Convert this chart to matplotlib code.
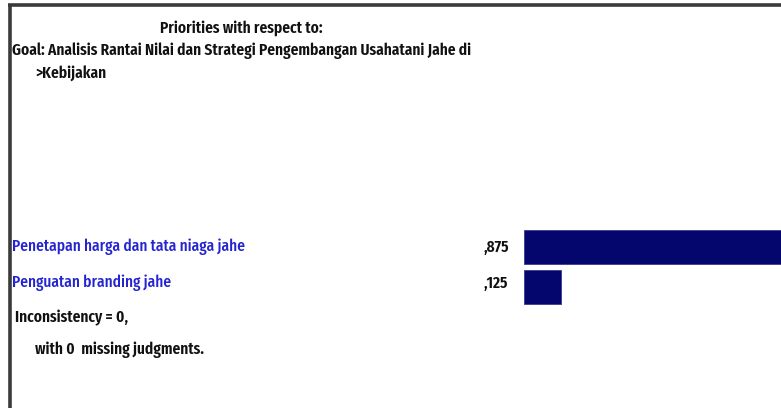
import matplotlib
matplotlib.use("Agg")
import matplotlib.pyplot as plt

# ---- data ----
title_lines = ["Priorities with respect to:",
               "Goal: Analisis Rantai Nilai dan Strategi Pengembangan Usahatani Jahe di",
               ">Kebijakan"]
categories = ["Penetapan harga dan tata niaga jahe", "Penguatan branding jahe"]
values = [0.875, 0.125]
footer_lines = ["Inconsistency = 0,", "with 0  missing judgments."]

W, H = 781, 408
fam = ['Fira Sans Extra Condensed', 'PT Sans Narrow', 'DejaVu Sans']
fig = plt.figure(figsize=(W / 100, H / 100), dpi=100)
fig.patch.set_facecolor('white')

ax = fig.add_axes([0, 0, 1, 1])
ax.set_xlim(0, W)
ax.set_ylim(H, 0)
ax.axis('off')

# frame lines (left and top)
ax.plot([9.5, 9.5], [4, H], color='#3a3a3a', lw=2.6, solid_capstyle='butt')
ax.plot([8, W], [4.5, 4.5], color='#3a3a3a', lw=2.6, solid_capstyle='butt')

fs = 12
dark = '#111111'
blue = '#2424d0'
wt = 'semibold'
texts = []
texts.append(ax.text(241, 28, title_lines[0], ha='center', va='center', fontsize=fs,
                     family=fam, weight=wt, color=dark))
goal = ax.text(12, 51, title_lines[1], ha='left', va='center', fontsize=fs,
               family=fam, weight=wt, color=dark)
texts.append(goal)
texts.append(ax.text(36, 74, title_lines[2], ha='left', va='center', fontsize=fs,
                     family=fam, weight=wt, color=dark))

label_y = [247, 283]
for cat, v, y in zip(categories, values, label_y):
    texts.append(ax.text(12, y, cat, ha='left', va='center', fontsize=fs, family=fam,
                         weight='medium', color=blue))
    txt = f"{v:.3f}".lstrip('0').replace('.', ',')
    texts.append(ax.text(483, y, txt, ha='left', va='center', fontsize=fs, family=fam,
                         weight=wt, color=dark))

texts.append(ax.text(15, 318, footer_lines[0], ha='left', va='center', fontsize=fs,
                     family=fam, weight=wt, color=dark))
texts.append(ax.text(35, 350, footer_lines[1], ha='left', va='center', fontsize=fs,
                     family=fam, weight=wt, color=dark))

# fit font size so the goal line spans the same width as in the reference
fig.canvas.draw()
r = fig.canvas.get_renderer()
wpx = goal.get_window_extent(r).width
scale = 460.0 / wpx
for t in texts:
    t.set_fontsize(fs * scale)

# bars
x0, x1 = 524, W
y_top, y_bot = 226.5, 307.5
bax = fig.add_axes([x0 / W, 1 - y_bot / H, (x1 - x0) / W, (y_bot - y_top) / H])
bax.barh(range(len(values)), values, height=0.83, color='#05056e',
         edgecolor='#3a3a8a', linewidth=0.6)
bax.set_xlim(0, 0.875 * (x1 - x0) / 259)
bax.set_ylim(1.5, -0.5)
bax.axis('off')

fig.savefig('out.png', dpi=100, facecolor='white')
